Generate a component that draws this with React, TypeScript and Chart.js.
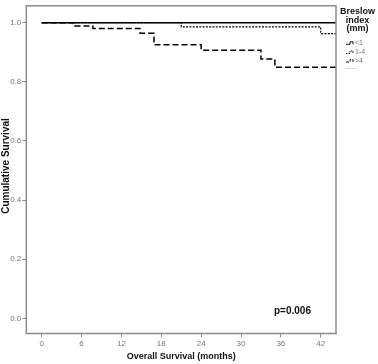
import React, { useEffect, useRef } from "react";
import { Chart, registerables } from "chart.js";

Chart.register(...registerables);

const xTicks = [0, 6, 12, 18, 24, 30, 36, 42];
const yTicks = [0, 0.2, 0.4, 0.6, 0.8, 1.0];

const monthsLt1 = [0, 44.3];
const survLt1 = [1.0, 1.0];

const months1to4 = [0, 21, 42, 44.3];
const surv1to4 = [1.0, 0.986, 0.963, 0.963];

const monthsGt4 = [0, 5, 7.7, 14.8, 16.9, 24, 33, 35.1, 44.3];
const survGt4 = [1.0, 0.989, 0.98, 0.964, 0.925, 0.907, 0.877, 0.849, 0.849];

const seriesLabels = ["<1", "1-4", ">4"];
const legendTitle = ["Breslow", "index", "(mm)"];
const pText = "p=0.006";
const xTitle = "Overall Survival (months)";
const yTitle = "Cumulative Survival";

const FONT = "'Liberation Sans', Arial, sans-serif";

function pts(xs: number[], ys: number[]) {
  return xs.map((x, i) => ({ x, y: ys[i] }));
}

const overlay = {
  id: "overlay",
  afterDraw(chart: any) {
    const ctx = chart.ctx;
    const a = chart.chartArea;
    ctx.save();
    // frame
    ctx.strokeStyle = "#8c8c8c";
    ctx.lineWidth = 1.5;
    ctx.strokeRect(a.left, a.top, a.right - a.left, a.bottom - a.top);

    // x title
    ctx.fillStyle = "#111";
    ctx.font = `bold 9px ${FONT}`;
    ctx.textAlign = "center";
    ctx.textBaseline = "middle";
    ctx.fillText(xTitle, (a.left + a.right) / 2 - 0, 357);

    // y title
    ctx.save();
    ctx.translate(6, 166);
    ctx.rotate(-Math.PI / 2);
    ctx.font = `bold 10px ${FONT}`;
    ctx.fillText(yTitle, 0, 0);
    ctx.restore();

    // p value
    ctx.font = `bold 10px ${FONT}`;
    ctx.textAlign = "left";
    ctx.fillText(pText, 274, 311);

    // legend title
    ctx.font = `bold 9px ${FONT}`;
    ctx.textAlign = "center";
    legendTitle.forEach((t, i) => ctx.fillText(t, 357.5, 12 + i * 8.3));

    // legend entries
    const dashes = [[], [1.5, 1], [3, 1.5]];
    const ys = [43.3, 52.5, 61];
    ctx.font = `7px ${FONT}`;
    ctx.textAlign = "left";
    seriesLabels.forEach((lab, i) => {
      const y = ys[i];
      ctx.strokeStyle = "#111";
      ctx.lineWidth = 1;
      ctx.setLineDash(dashes[i]);
      ctx.beginPath();
      ctx.moveTo(346, y + 1);
      ctx.lineTo(350, y + 1);
      ctx.lineTo(350, y - 1.5);
      ctx.lineTo(353, y - 1.5);
      ctx.lineTo(353, y + 1);
      ctx.stroke();
      ctx.setLineDash([]);
      ctx.fillStyle = "#777";
      ctx.fillText(lab, 355, y);
    });
    ctx.strokeStyle = "#ddd";
    ctx.lineWidth = 1;
    ctx.beginPath();
    ctx.moveTo(345, 68.5);
    ctx.lineTo(357, 68.5);
    ctx.stroke();
    ctx.restore();
  },
};

export default function App() {
  const ref = useRef<HTMLCanvasElement>(null);
  useEffect(() => {
    const canvas = ref.current!;
    const chart = new Chart(canvas, {
      type: "line",
      data: {
        datasets: [
          {
            label: seriesLabels[0],
            data: pts(monthsLt1, survLt1),
            borderColor: "#000",
            borderWidth: 1.5,
            pointRadius: 0,
            stepped: true,
          },
          {
            label: seriesLabels[1],
            data: pts(months1to4, surv1to4),
            borderColor: "#000",
            borderWidth: 1.2,
            borderDash: [2, 1.3],
            pointRadius: 0,
            stepped: true,
          },
          {
            label: seriesLabels[2],
            data: pts(monthsGt4, survGt4),
            borderColor: "#000",
            borderWidth: 1.5,
            borderDash: [6, 3],
            pointRadius: 0,
            stepped: true,
          },
        ],
      },
      options: {
        responsive: false,
        animation: false,
        events: [],
        layout: { padding: { left: 0, right: 42, top: 3, bottom: 0 } },
        plugins: { legend: { display: false }, tooltip: { enabled: false } },
        scales: {
          x: {
            type: "linear",
            min: -2.32,
            max: 44.3,
            afterBuildTicks: (s: any) => {
              s.ticks = xTicks.map((v) => ({ value: v }));
            },
            afterFit: (s: any) => {
              s.height = 30.5;
            },
            ticks: {
              color: "#777",
              font: { size: 8, family: FONT },
              padding: 1,
              maxRotation: 0,
              callback: (v: any) => String(v),
            },
            grid: { drawOnChartArea: false, drawTicks: true, tickLength: 4, color: "#8c8c8c" },
            border: { display: true, color: "#8c8c8c" },
          },
          y: {
            type: "linear",
            min: -0.051,
            max: 1.057,
            afterBuildTicks: (s: any) => {
              s.ticks = yTicks.map((v) => ({ value: v }));
            },
            afterFit: (s: any) => {
              s.width = 26.3;
            },
            ticks: {
              color: "#777",
              font: { size: 8, family: FONT },
              padding: 1,
              callback: (v: any) => Number(v).toFixed(1),
            },
            grid: { drawOnChartArea: false, drawTicks: true, tickLength: 4, color: "#8c8c8c" },
            border: { display: true, color: "#8c8c8c" },
          },
        },
      },
      plugins: [overlay],
    } as any);
    return () => chart.destroy();
  }, []);
  return (
    <div style={{ position: "absolute", left: 0, top: 0, width: 378, height: 364, background: "#fff" }}>
      <canvas ref={ref} width={378} height={364} style={{ display: "block" }} />
    </div>
  );
}
